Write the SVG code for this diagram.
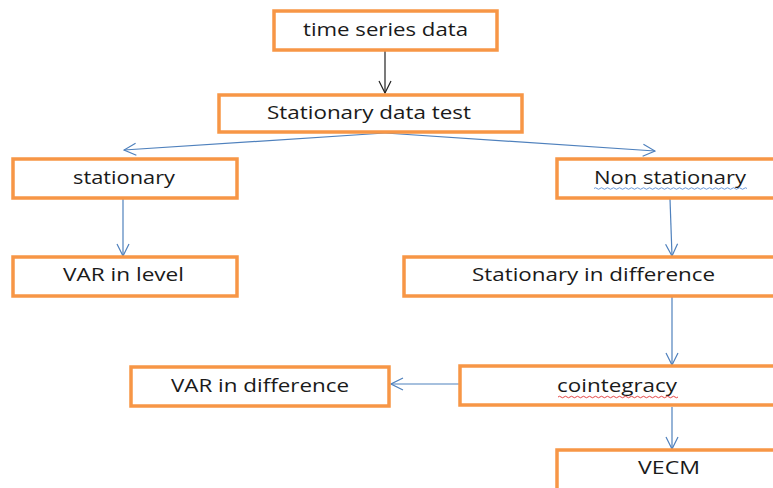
<svg xmlns="http://www.w3.org/2000/svg" width="773" height="488" viewBox="0 0 773 488">
<style>
.box{fill:#fff;stroke:#F79646;stroke-width:3.5}
.t{font-family:"Open Sans","Liberation Sans",sans-serif;font-size:18px;fill:#1a1a1a;text-anchor:middle}
.c{fill:none;stroke:#4F81BD;stroke-width:1.2}
.k{fill:none;stroke:#222;stroke-width:1.2}
</style>
<defs>
<marker id="ab" markerWidth="14" markerHeight="14" refX="13" refY="7" orient="auto" markerUnits="userSpaceOnUse">
<path d="M1,1 L13,7 L1,13" fill="none" stroke="#4F81BD" stroke-width="1.2"/>
</marker>
<marker id="ak" markerWidth="14" markerHeight="14" refX="13" refY="7" orient="auto" markerUnits="userSpaceOnUse">
<path d="M1,1 L13,7 L1,13" fill="none" stroke="#222" stroke-width="1.2"/>
</marker>
</defs>
<rect width="773" height="488" fill="#fff"/>
<g id="connectors">
<line class="k" x1="385" y1="51" x2="385" y2="93" marker-end="url(#ak)"/>
<line class="c" x1="385" y1="133" x2="124" y2="150" marker-end="url(#ab)"/>
<line class="c" x1="385" y1="133" x2="655" y2="151" marker-end="url(#ab)"/>
<line class="c" x1="123" y1="199" x2="123" y2="256" marker-end="url(#ab)"/>
<line class="c" x1="670" y1="199" x2="672" y2="256" marker-end="url(#ab)"/>
<line class="c" x1="672" y1="297" x2="672" y2="365" marker-end="url(#ab)"/>
<line class="c" x1="459" y1="384" x2="391" y2="384" marker-end="url(#ab)"/>
<line class="c" x1="672" y1="407" x2="672" y2="449" marker-end="url(#ab)"/>
</g>
<g id="n-time"><rect class="box" x="274" y="11" width="223" height="39"/><text class="t" x="385.5" y="36" textLength="165" lengthAdjust="spacingAndGlyphs">time series data</text></g>
<g id="n-test"><rect class="box" x="219" y="95" width="303" height="37"/><text class="t" x="369" y="119" textLength="204" lengthAdjust="spacingAndGlyphs">Stationary data test</text></g>
<g id="n-stat"><rect class="box" x="13" y="159" width="224" height="39"/><text class="t" x="124" y="184" textLength="102" lengthAdjust="spacingAndGlyphs">stationary</text></g>
<g id="n-nonstat"><rect class="box" x="557" y="159" width="230" height="39"/><text class="t" x="670" y="184" textLength="152" lengthAdjust="spacingAndGlyphs">Non stationary</text>
<path d="M594,188.5 q1.5,-1.5 3,0 t3,0 t3,0 t3,0 t3,0 t3,0 t3,0 t3,0 t3,0 t3,0 t3,0 t3,0 t3,0 t3,0 t3,0 t3,0 t3,0 t3,0 t3,0 t3,0 t3,0 t3,0 t3,0 t3,0 t3,0 t3,0 t3,0 t3,0 t3,0 t3,0 t3,0 t3,0 t3,0 t3,0 t3,0 t3,0 t3,0 t3,0 t3,0 t3,0 t3,0 t3,0 t3,0 t3,0 t3,0 t3,0 t3,0 t3,0 t3,0 t3,0 t3,0" fill="none" stroke="#5b8fd6" stroke-width="0.9"/></g>
<g id="n-varlevel"><rect class="box" x="13" y="257" width="224" height="39"/><text class="t" x="123.5" y="281" textLength="121" lengthAdjust="spacingAndGlyphs">VAR in level</text></g>
<g id="n-statdiff"><rect class="box" x="404" y="257" width="383" height="39"/><text class="t" x="593.5" y="281" textLength="243" lengthAdjust="spacingAndGlyphs">Stationary in difference</text></g>
<g id="n-vardiff"><rect class="box" x="131" y="367" width="258" height="39"/><text class="t" x="260" y="391.5" textLength="178" lengthAdjust="spacingAndGlyphs">VAR in difference</text></g>
<g id="n-coint"><rect class="box" x="460" y="366" width="327" height="39"/><text class="t" x="617" y="391.5" textLength="120" lengthAdjust="spacingAndGlyphs">cointegracy</text>
<path d="M558,397 q1.5,-1.5 3,0 t3,0 t3,0 t3,0 t3,0 t3,0 t3,0 t3,0 t3,0 t3,0 t3,0 t3,0 t3,0 t3,0 t3,0 t3,0 t3,0 t3,0 t3,0 t3,0 t3,0 t3,0 t3,0 t3,0 t3,0 t3,0 t3,0 t3,0 t3,0 t3,0 t3,0 t3,0 t3,0 t3,0 t3,0 t3,0 t3,0 t3,0 t3,0 t3,0" fill="none" stroke="#e03030" stroke-width="0.9"/></g>
<g id="n-vecm"><rect class="box" x="557" y="450" width="230" height="45"/><text class="t" x="669" y="474" textLength="62" lengthAdjust="spacingAndGlyphs">VECM</text></g>
</svg>
